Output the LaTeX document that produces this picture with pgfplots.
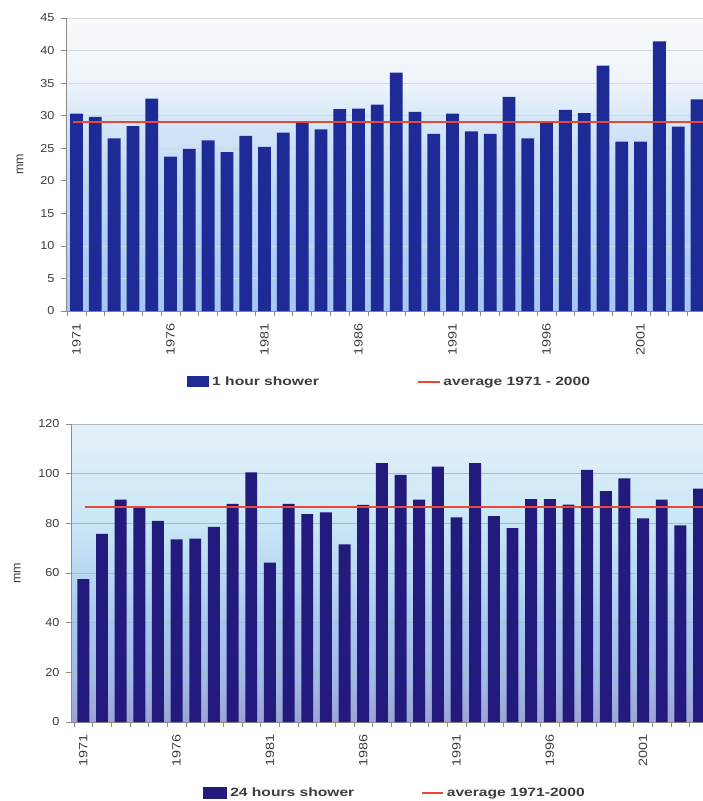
\documentclass[border=0pt]{standalone}
\usepackage{fontspec}
\setmainfont{Liberation Sans}
\newfontfamily\legfont[FakeStretch=1.3]{Liberation Sans}
\newfontfamily\tickfont[FakeStretch=1.1]{Liberation Sans}
\newfontfamily\yearfont[FakeStretch=1.2]{Liberation Sans}
\usepackage{pgfplots}
\usepackage{pgfplotstable}
\pgfplotsset{compat=1.18}

% colours
\definecolor{barone}{RGB}{30,42,150}
\definecolor{bartwo}{RGB}{34,26,124}
\definecolor{avgred}{RGB}{236,70,52}
\definecolor{axisc}{RGB}{140,140,140}
\definecolor{gridone}{RGB}{208,216,224}
\definecolor{gridtwo}{RGB}{168,188,204}
\definecolor{tickc}{RGB}{60,60,60}
% plot area shading, 1 hour chart
\definecolor{bgAa}{RGB}{164,198,240}
\definecolor{bgAb}{RGB}{188,216,246}
\definecolor{bgAc}{RGB}{214,232,248}
\definecolor{bgAd}{RGB}{238,244,250}
\definecolor{bgAe}{RGB}{248,250,252}
% plot area shading, 24 hours chart
\definecolor{bgBa}{RGB}{156,164,212}
\definecolor{bgBb}{RGB}{164,186,230}
\definecolor{bgBc}{RGB}{168,200,238}
\definecolor{bgBd}{RGB}{184,216,242}
\definecolor{bgBe}{RGB}{200,230,246}
\definecolor{bgBf}{RGB}{216,236,248}
\definecolor{bgBg}{RGB}{230,240,248}

\pgfdeclareverticalshading{bgone}{100bp}{color(0bp)=(bgAa); color(25bp)=(bgAa);
  color(47bp)=(bgAb); color(58bp)=(bgAc); color(64bp)=(bgAd); color(75bp)=(bgAe); color(100bp)=(bgAe)}
\pgfdeclareverticalshading{bgtwo}{100bp}{color(0bp)=(bgBa); color(25bp)=(bgBa);
  color(33bp)=(bgBb); color(42bp)=(bgBc); color(50bp)=(bgBd); color(58bp)=(bgBe);
  color(67bp)=(bgBf); color(75bp)=(bgBg); color(100bp)=(bgBg)}

% maximum precipitation in one hour (mm)
\pgfplotstableread{
year mm
1971 30.3
1972 29.8
1973 26.5
1974 28.4
1975 32.6
1976 23.7
1977 24.9
1978 26.2
1979 24.4
1980 26.9
1981 25.2
1982 27.4
1983 29.1
1984 27.9
1985 31.0
1986 31.1
1987 31.7
1988 36.6
1989 30.6
1990 27.2
1991 30.3
1992 27.6
1993 27.2
1994 32.9
1995 26.5
1996 29.0
1997 30.9
1998 30.4
1999 37.7
2000 26.0
2001 26.0
2002 41.4
2003 28.3
2004 32.5
}\onehour

% maximum precipitation in 24 hours (mm)
\pgfplotstableread{
year mm
1971 57.5
1972 75.8
1973 89.6
1974 86.3
1975 81.0
1976 73.5
1977 73.8
1978 78.6
1979 87.8
1980 100.5
1981 64.2
1982 87.8
1983 83.7
1984 84.4
1985 71.5
1986 87.4
1987 104.2
1988 99.5
1989 89.6
1990 102.8
1991 82.4
1992 104.2
1993 82.9
1994 78.1
1995 89.8
1996 89.8
1997 87.5
1998 101.5
1999 93.0
2000 98.1
2001 82.0
2002 89.6
2003 79.2
2004 94.0
}\daylong

\pgfplotsset{
  shower/.style={
    scale only axis,
    axis lines=left,
    axis line style={-, draw=axisc, line width=0.8pt},
    tick align=outside,
    major tick length=5pt,
    tick style={draw=axisc, line width=0.6pt},
    ymin=0,
    ymajorgrids,
    xtick={1970.5,1971.5,...,2004.5},
    xticklabels={},
    extra x ticks={1971,1976,1981,1986,1991,1996,2001},
    extra x tick labels={1971,1976,1981,1986,1991,1996,2001},
    extra x tick style={major tick length=0pt, grid=none},
    xticklabel style={rotate=90, anchor=east, text=tickc,
      font=\yearfont\fontsize{12}{13}\selectfont},
    xticklabel shift=9pt,
    yticklabel style={text=tickc, font=\tickfont\fontsize{11.5}{12}\selectfont},
    yticklabel shift=3pt,
    /pgf/number format/assume math mode=true,
    ylabel={mm},
    ylabel style={text=tickc, font=\fontsize{12.5}{13}\selectfont, anchor=center},
    legend columns=2,
    legend cell align=left,
    legend style={draw=none, fill=none, inner sep=0pt, anchor=west,
      nodes={inner sep=0pt},
      font=\legfont\bfseries\fontsize{12}{14}\selectfont, text=tickc,
      /tikz/every odd column/.append style={column sep=3pt}},
  },
}

\begin{document}
\begin{tikzpicture}
\path[use as bounding box] (0pt,0pt) rectangle (703pt,-801pt);

% 1 hour shower
\begin{axis}[shower,
  at={(66pt,-311pt)}, anchor=south west,
  width=637pt, height=293pt,
  xmin=1970.44, xmax=2004.32, ymax=45,
  ytick={0,5,...,45},
  major grid style={draw=gridone, line width=0.6pt},
  axis background/.style={shading=bgone},
  ylabel style={at={(axis description cs:-0.072,0.5)}},
  legend style={at={(axis description cs:0.19,-0.242)},
    /tikz/every even column/.append style={column sep=98pt}},
]
\addplot[ybar, bar width=0.68, fill=barone, draw=none,
  legend image code/.code={\fill[barone] (0pt,-5.5pt) rectangle (22pt,5.5pt);}]
  table[x=year, y=mm] {\onehour};
\addlegendentry{1 hour shower}
\addplot[draw=avgred, line width=2pt,
  legend image code/.code={\draw[avgred, line width=1.6pt] (0pt,0pt) -- (22pt,0pt);}]
  coordinates {(1970.8,29.0) (2004.4,29.0)};
\addlegendentry{average 1971 - 2000}
\end{axis}

% 24 hours shower
\begin{axis}[shower,
  at={(71pt,-722pt)}, anchor=south west,
  width=632pt, height=298pt,
  xmin=1970.34, xmax=2004.21, ymax=120,
  ytick={0,20,...,120},
  major grid style={draw=gridtwo, line width=0.6pt},
  axis background/.style={shading=bgtwo},
  ylabel style={at={(axis description cs:-0.085,0.5)}},
  legend style={at={(axis description cs:0.209,-0.238)},
    /tikz/every even column/.append style={column sep=67pt}},
]
\addplot[ybar, bar width=0.64, fill=bartwo, draw=none,
  legend image code/.code={\fill[bartwo] (0pt,-6pt) rectangle (24pt,6pt);}]
  table[x=year, y=mm] {\daylong};
\addlegendentry{24 hours shower}
\addplot[draw=avgred, line width=2pt,
  legend image code/.code={\draw[avgred, line width=1.6pt] (0pt,0pt) -- (21pt,0pt);}]
  coordinates {(1971.1,86.4) (2004.4,86.4)};
\addlegendentry{average 1971-2000}
\end{axis}
\end{tikzpicture}
\end{document}
